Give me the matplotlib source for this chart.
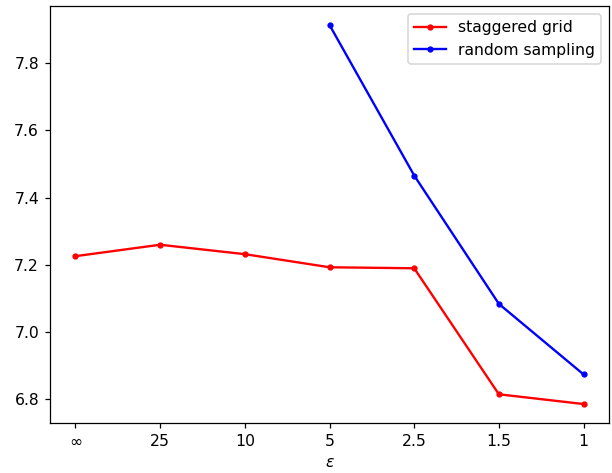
import numpy as np
import matplotlib.pyplot as plt

# x categories (privacy budget epsilon)
eps_labels = [r"$\infty$", "25", "10", "5", "2.5", "1.5", "1"]

# staggered grid result for every epsilon
staggered = [7.226, 7.260, 7.232, 7.193, 7.190, 6.815, 6.786]

# random sampling only from eps=5 onwards
random_idx = [3, 4, 5, 6]
random_vals = [7.914, 7.466, 7.084, 6.874]

x = np.arange(len(eps_labels))

# the reference looks rendered at a bit more than 100 dpi
DPI = 112.7
W, H = 612, 473
fig = plt.figure(figsize=(W / DPI, H / DPI), dpi=DPI)
ax = fig.add_axes([50 / W, 50 / H, 559 / W, 417 / H])

ax.plot(x, staggered, color="red", marker=".", label="staggered grid")
ax.plot(x[random_idx], random_vals, color="blue", marker=".", label="random sampling")

ax.set_xticks(x)
ax.set_xticklabels(eps_labels)
ax.set_xlabel(r"$\varepsilon$")
ax.legend(loc="upper right")

plt.savefig("out.png", dpi=DPI)
